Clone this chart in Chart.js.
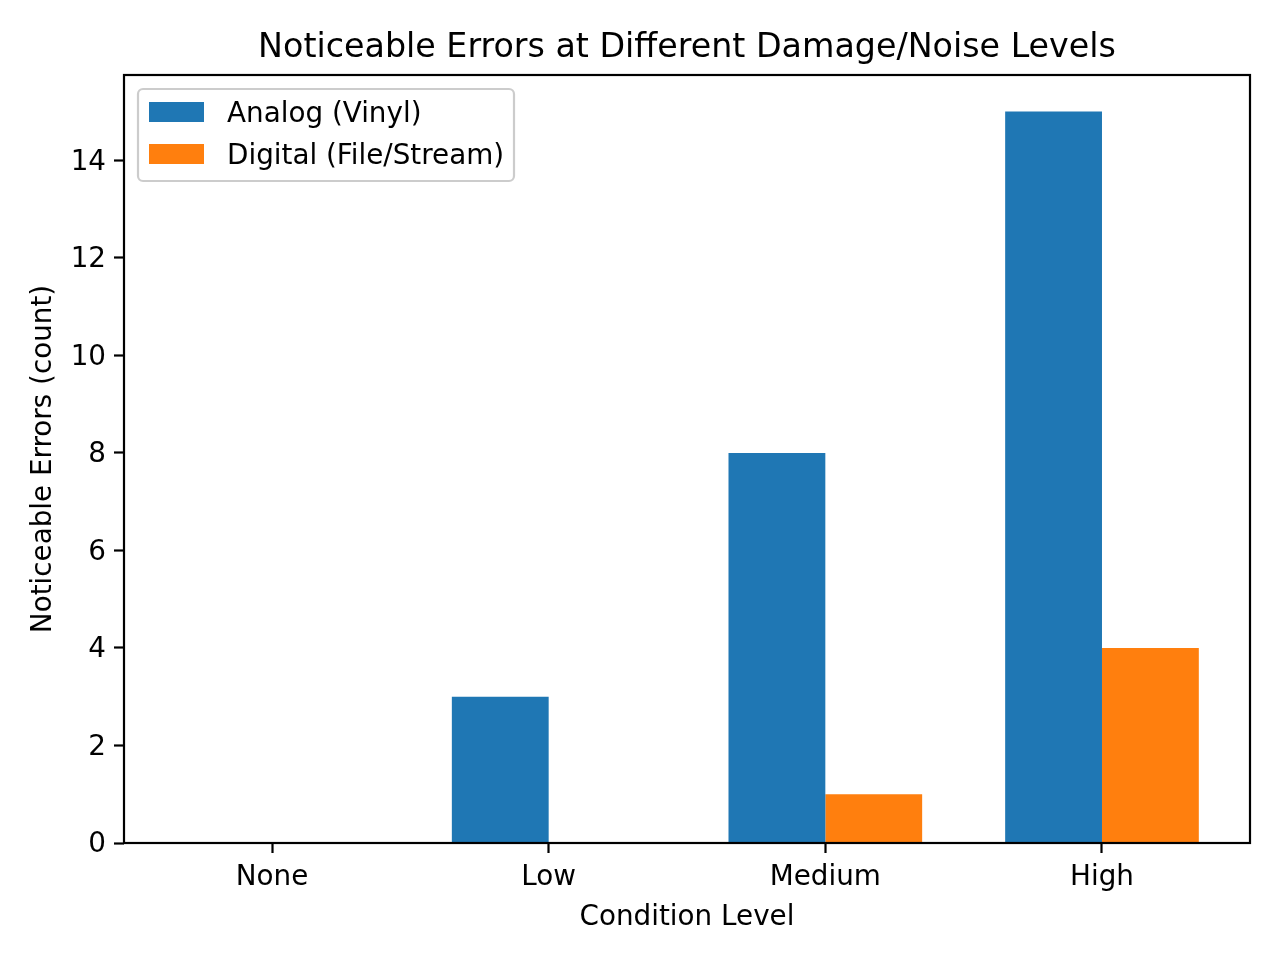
<!DOCTYPE html>
<html>
<head>
<meta charset="utf-8">
<script src="https://cdn.jsdelivr.net/npm/chart.js@4.4.0/dist/chart.umd.min.js"></script>
<style>
  html, body { margin: 0; padding: 0; background: #fff; }
  #wrap { width: 1280px; height: 960px; }
</style>
</head>
<body>
<div id="wrap"><canvas id="grafico" width="1280" height="960"></canvas></div>
<script>
// datos del grafico
const categorias = ['None', 'Low', 'Medium', 'High'];
const analogico = [0, 3, 8, 15];
const digital = [0, 0, 1, 4];
const ticksY = [0, 2, 4, 6, 8, 10, 12, 14];

const titulo = 'Noticeable Errors at Different Damage/Noise Levels';
const fuente = '"DejaVu Sans", sans-serif';

// marco, titulo y leyenda al estilo matplotlib
const pluginMarco = {
    id: 'marco',
    afterDatasetsDraw(chart) {
        const { ctx, chartArea: a } = chart;
        ctx.save();
        ctx.strokeStyle = '#000';
        ctx.lineWidth = 2.2;
        ctx.strokeRect(a.left, a.top, a.right - a.left, a.bottom - a.top);

        // titulo
        ctx.fillStyle = '#000';
        ctx.font = '33.3px ' + fuente;
        ctx.textAlign = 'center';
        ctx.textBaseline = 'alphabetic';
        ctx.fillText(titulo, (a.left + a.right) / 2, 57);

        // leyenda
        const x0 = a.left + 14, y0 = a.top + 14, w = 376, h = 92;
        ctx.beginPath();
        ctx.roundRect(x0, y0, w, h, 5);
        ctx.fillStyle = 'rgba(255,255,255,0.8)';
        ctx.fill();
        ctx.strokeStyle = '#cccccc';
        ctx.lineWidth = 2.2;
        ctx.stroke();

        ctx.font = '27.8px ' + fuente;
        ctx.textAlign = 'left';
        chart.data.datasets.forEach((ds, i) => {
            const cy = y0 + 23 + i * 42;
            ctx.fillStyle = ds.backgroundColor;
            ctx.fillRect(x0 + 11, cy - 10, 55, 20);
            ctx.fillStyle = '#000';
            ctx.fillText(ds.label, x0 + 89, cy + 10);
        });
        ctx.restore();
    }
};

const ctx = document.getElementById('grafico').getContext('2d');
new Chart(ctx, {
    type: 'bar',
    data: {
        datasets: [{
            label: 'Analog (Vinyl)',
            data: analogico.map((v, i) => ({ x: i, y: v })),
            backgroundColor: '#1f77b4',
            borderWidth: 0
        }, {
            label: 'Digital (File/Stream)',
            data: digital.map((v, i) => ({ x: i, y: v })),
            backgroundColor: '#ff7f0e',
            borderWidth: 0
        }]
    },
    options: {
        responsive: false,
        animation: false,
        devicePixelRatio: 1,
        categoryPercentage: 0.7,
        barPercentage: 1.0,
        layout: { padding: { top: 75, right: 30, left: 0, bottom: 0 } },
        plugins: {
            legend: { display: false },
            title: { display: false },
            tooltip: { enabled: false }
        },
        scales: {
            x: {
                type: 'linear',
                offset: false,
                min: -0.535,
                max: 3.535,
                afterBuildTicks: s => { s.ticks = categorias.map((c, i) => ({ value: i })); },
                afterFit: s => { s.height = 117; },
                border: { display: false },
                grid: { offset: false, drawOnChartArea: false, drawTicks: true, tickLength: 10, tickColor: '#000', tickWidth: 2.2 },
                ticks: {
                    color: '#000',
                    font: { family: fuente, size: 27.8 },
                    padding: 8,
                    maxRotation: 0,
                    callback: v => categorias[v]
                },
                title: {
                    display: true,
                    text: 'Condition Level',
                    color: '#000',
                    font: { family: fuente, size: 27.8 },
                    padding: { top: 0, bottom: 26 }
                }
            },
            y: {
                min: 0,
                max: 15.75,
                afterBuildTicks: s => { s.ticks = ticksY.map(v => ({ value: v })); },
                afterFit: s => { s.width = 124; },
                border: { display: false },
                grid: { drawOnChartArea: false, drawTicks: true, tickLength: 10, tickColor: '#000', tickWidth: 2.2 },
                ticks: {
                    color: '#000',
                    font: { family: fuente, size: 27.8 },
                    padding: 8,
                    labelOffset: 2
                },
                title: {
                    display: true,
                    text: 'Noticeable Errors (count)',
                    color: '#000',
                    font: { family: fuente, size: 27.8 },
                    padding: { top: 27, bottom: 0 }
                }
            }
        }
    },
    plugins: [pluginMarco]
});
</script>
</body>
</html>
